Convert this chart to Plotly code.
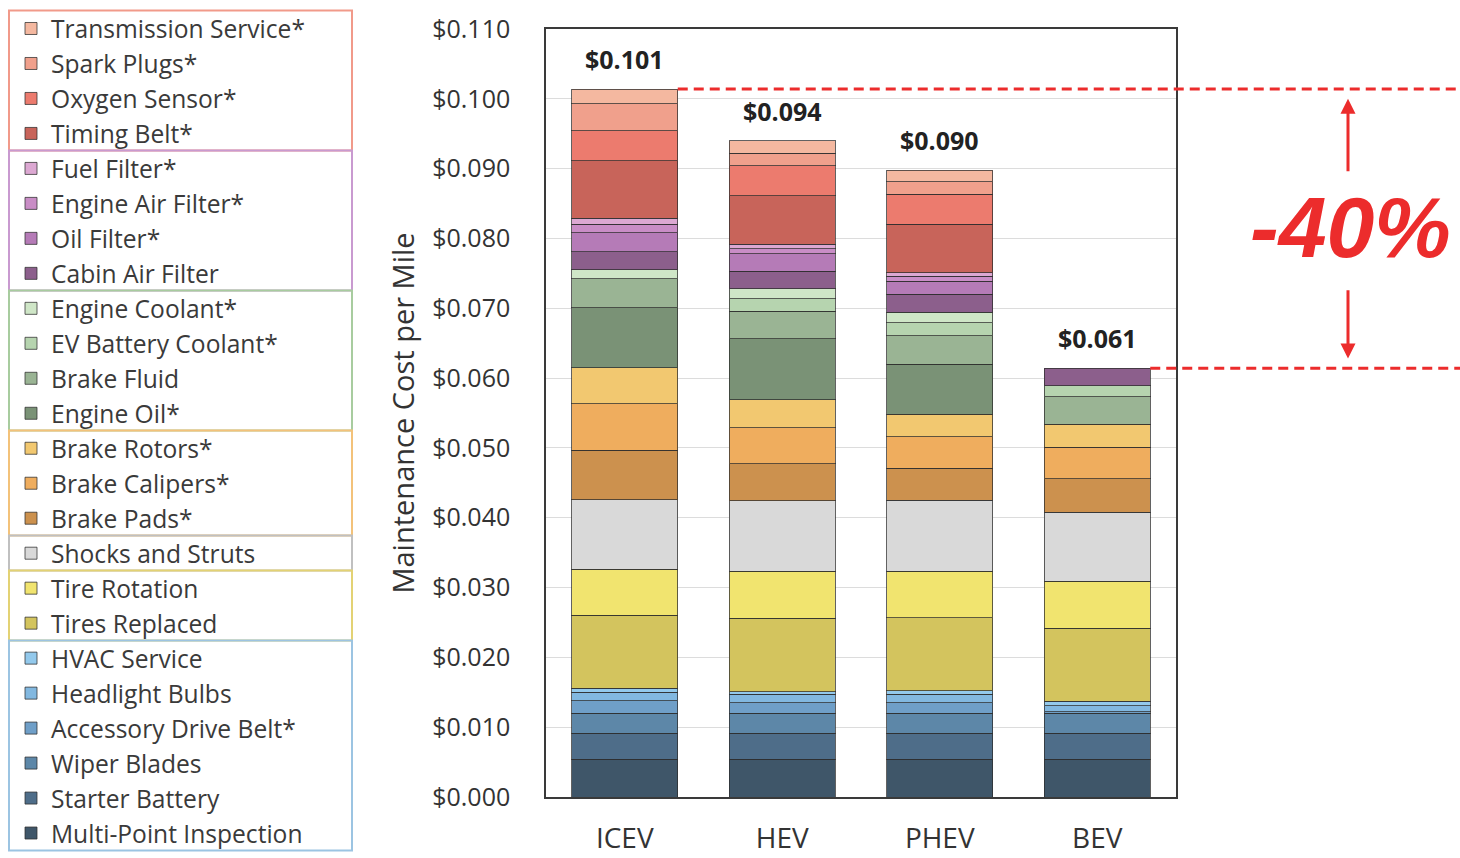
import plotly.graph_objects as go

# ---------------- data ----------------
vehicles = ["ICEV", "HEV", "PHEV", "BEV"]

# stacking order: bottom -> top
items = [
    "Multi-Point Inspection", "Starter Battery", "Wiper Blades", "Accessory Drive Belt*",
    "Headlight Bulbs", "HVAC Service", "Tires Replaced", "Tire Rotation",
    "Shocks and Struts", "Brake Pads*", "Brake Calipers*", "Brake Rotors*",
    "Engine Oil*", "Brake Fluid", "EV Battery Coolant*", "Engine Coolant*",
    "Cabin Air Filter", "Oil Filter*", "Engine Air Filter*", "Fuel Filter*",
    "Timing Belt*", "Oxygen Sensor*", "Spark Plugs*", "Transmission Service*",
]

colors = [
    "#3f5669", "#4e6d89", "#5d87a8", "#6f9fc8",
    "#82b8e0", "#93c9ec", "#d3c45e", "#f1e46f",
    "#d9d9d9", "#cc914e", "#efad5e", "#f2c870",
    "#7a9276", "#9ab494", "#b6d4af", "#cfe6c7",
    "#8c5f8c", "#b57bb7", "#c98dc6", "#dca8d2",
    "#c8645a", "#ec7b6e", "#f0a08c", "#f4b8a0",
]

icev = [0.0054, 0.0037, 0.0029, 0.0018, 0.0012, 0.0006, 0.0104, 0.0066,
        0.0100, 0.0071, 0.0066, 0.0052, 0.0086, 0.0041, 0.0, 0.0013,
        0.0026, 0.0027, 0.0012, 0.0009, 0.0082, 0.0043, 0.0039, 0.0021]
hev = [0.0054, 0.0037, 0.0029, 0.0015, 0.0012, 0.0004, 0.0105, 0.0067,
       0.0101, 0.0053, 0.0052, 0.0040, 0.0087, 0.0040, 0.0018, 0.0014,
       0.0025, 0.0025, 0.0007, 0.0007, 0.0069, 0.0043, 0.0018, 0.0018]
phev = [0.0054, 0.0037, 0.0029, 0.0015, 0.0012, 0.0005, 0.0105, 0.0066,
        0.0102, 0.0046, 0.0045, 0.0032, 0.0072, 0.0041, 0.0018, 0.0015,
        0.0026, 0.0019, 0.0007, 0.0005, 0.0069, 0.0043, 0.0018, 0.0017]
bev = [0.0054, 0.0037, 0.0029, 0.0002, 0.0009, 0.0006, 0.0105, 0.0067,
       0.0099, 0.0048, 0.0045, 0.0033, 0.0, 0.0039, 0.0016, 0.0,
       0.0025, 0.0, 0.0, 0.0, 0.0, 0.0, 0.0, 0.0]

# legend group sizes (top -> bottom of legend) and their border colours
group_sizes = [4, 4, 4, 3, 1, 2, 6]
group_colors = ["#f19a8a", "#c99ad0", "#a8cc9f", "#f3c27a", "#c0c0c0", "#e3d274", "#9cc4e2"]

y_ticks = [i / 1000 for i in range(0, 111, 10)]

# ---------------- figure ----------------
W, H = 1460, 858
ML, MR, MT, MB = 546, 284, 29, 61
PW, PH = W - ML - MR, H - MT - MB
BARGAP = 0.327
FONT = "Open Sans"
RED = "#ec2c2c"


def px_x(px):
    return (px - ML) / PW


def px_y(py):
    return (H - MB - py) / PH


fig = go.Figure()
series = [icev, hev, phev, bev]
for k, name in enumerate(items):
    vals = [s[k] if s[k] > 0 else None for s in series]
    fig.add_trace(go.Bar(
        x=vehicles, y=vals, name=name,
        marker=dict(color=colors[k], line=dict(color="rgba(45,45,45,0.75)", width=1)),
        hoverinfo="x+y+name",
    ))

totals = [sum(s) for s in series]
rounded = [round(t, 3) for t in totals]

annotations = []
for v, t in zip(vehicles, totals):
    annotations.append(dict(
        x=v, y=t, xref="x", yref="y", text=f"<b>${t:.3f}</b>", showarrow=False,
        xanchor="center", yanchor="bottom", yshift=11,
        font=dict(family=FONT, size=25, color="#222"),
    ))

# percentage change annotation
pct = (rounded[3] - rounded[0]) / rounded[0] * 100
gap_mid = (totals[0] + totals[3]) / 2
annotations.append(dict(
    x=px_x(1350), y=gap_mid + 0.0003, xref="paper", yref="y",
    xanchor="center", yanchor="middle",
    text=f"<b><i>{pct:.0f}%</i></b>", showarrow=False,
    font=dict(family="Liberation Sans", size=86, color=RED),
))
# arrows
span = totals[0] - totals[3]
annotations.append(dict(
    x=px_x(1348), y=totals[0] - 0.035 * span, xref="paper", yref="y",
    ax=0, ay=totals[0] - 0.30 * span, axref="pixel", ayref="y",
    showarrow=True, arrowhead=2, arrowsize=1, arrowwidth=3, arrowcolor=RED, text="",
))
annotations.append(dict(
    x=px_x(1348), y=totals[3] + 0.035 * span, xref="paper", yref="y",
    ax=0, ay=totals[3] + 0.285 * span, axref="pixel", ayref="y",
    showarrow=True, arrowhead=2, arrowsize=1, arrowwidth=3, arrowcolor=RED, text="",
))

shapes = []
half = (1 - BARGAP) / 2
n_cat = len(vehicles)
for idx in (0, 3):
    shapes.append(dict(
        type="line", xref="paper", yref="y",
        x0=(idx + 0.5 + half) / n_cat, x1=px_x(W),
        y0=totals[idx], y1=totals[idx],
        line=dict(color=RED, width=3, dash="10px,6px"),
    ))

# legend group boxes
spacing = 35.0
first_top = 10.5
start = 0
for size, col in zip(group_sizes, group_colors):
    top = first_top + start * spacing
    bot = first_top + (start + size) * spacing
    shapes.append(dict(
        type="rect", xref="paper", yref="paper",
        x0=px_x(9), x1=px_x(352), y0=px_y(bot), y1=px_y(top),
        line=dict(color=col, width=2), fillcolor="rgba(0,0,0,0)",
    ))
    start += size

fig.update_layout(
    width=W, height=H,
    margin=dict(l=ML, r=MR, t=MT, b=MB, autoexpand=False),
    barmode="stack", bargap=BARGAP,
    paper_bgcolor="white", plot_bgcolor="white",
    font=dict(family=FONT, color="#333"),
    showlegend=True,
    legend=dict(
        x=px_x(11), y=px_y(6), xanchor="left", yanchor="top",
        traceorder="reversed", font=dict(family=FONT, size=24.6, color="#3a3a3a"),
        bgcolor="rgba(0,0,0,0)", borderwidth=0, itemwidth=30, maxheight=900,
    ),
    xaxis=dict(
        showgrid=False, showline=True, mirror=True, linecolor="#3a3a3a", linewidth=1.5,
        ticks="", tickfont=dict(family=FONT, size=28, color="#333"),
        ticklabelstandoff=16,
    ),
    yaxis=dict(
        range=[0, 0.110], tickvals=y_ticks, tickformat="$.3f",
        showgrid=True, gridcolor="#dcdcdc", gridwidth=1,
        showline=True, mirror=True, linecolor="#3a3a3a", linewidth=1.5,
        zeroline=False, ticks="", ticklabelstandoff=29,
        tickfont=dict(family=FONT, size=25, color="#333"),
        title=dict(text="Maintenance Cost per Mile", standoff=9,
                   font=dict(family=FONT, size=29, color="#333")),
    ),
    annotations=annotations,
    shapes=shapes,
)

fig.write_html("out.html", config={"displayModeBar": False},
               post_script="document.body.style.margin='0';")
